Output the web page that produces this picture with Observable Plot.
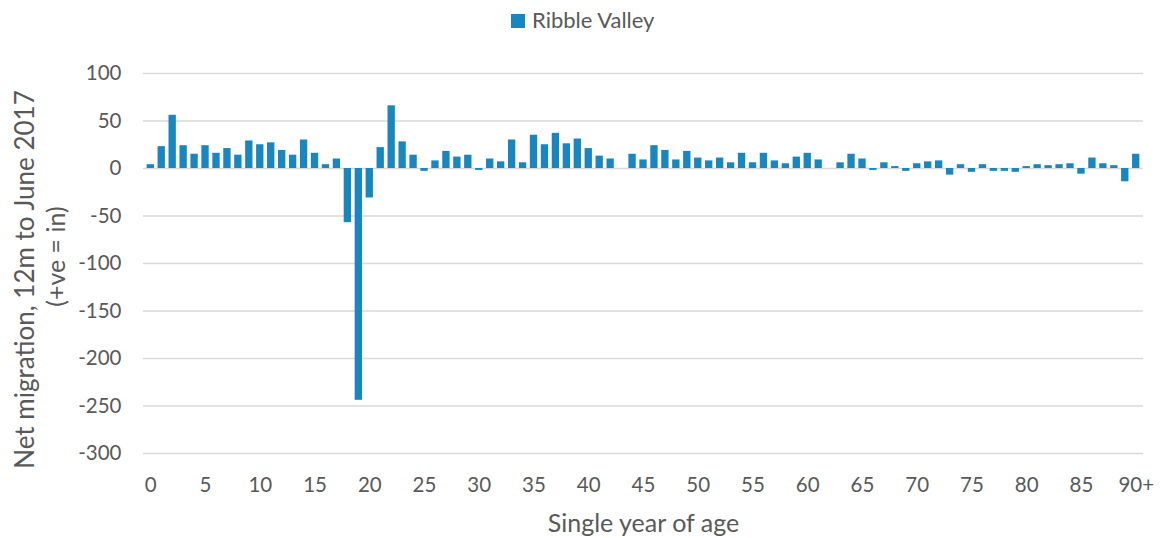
<!DOCTYPE html>
<html>
<head>
<meta charset="utf-8">
<script src="https://cdn.jsdelivr.net/npm/d3@7"></script>
<script src="https://cdn.jsdelivr.net/npm/@observablehq/plot@0.6"></script>
<style>
  body { margin: 0; background: #fff; font-family: Lato, "Open Sans", sans-serif; }
  #legend { height: 40px; position: relative; color: #595959; font-size: 22px; }
  #legend .sw { position: absolute; left: 511px; top: 14px; width: 14px; height: 14px; background: #1a86c0; }
  #legend .lt { position: absolute; left: 532px; top: 7px; line-height: 26px; white-space: nowrap; }
</style>
</head>
<body>
<div id="legend"><span class="sw"></span><span class="lt" id="legendText"></span></div>
<div id="chart"></div>
<script>
const seriesName = "Ribble Valley";
const ages = ["0","1","2","3","4","5","6","7","8","9","10","11","12","13","14","15","16","17","18","19","20","21","22","23","24","25","26","27","28","29","30","31","32","33","34","35","36","37","38","39","40","41","42","43","44","45","46","47","48","49","50","51","52","53","54","55","56","57","58","59","60","61","62","63","64","65","66","67","68","69","70","71","72","73","74","75","76","77","78","79","80","81","82","83","84","85","86","87","88","89","90+"];
const values = [4,23,56,24,15,24,16,21,14,29,25,27,19,14,30,16,4,10,-57,-244,-31,22,66,28,14,-3,8,18,12,14,-2,10,7,30,6,35,25,37,26,31,21,13,10,0,15,9,24,19,9,18,11,8,11,6,16,6,16,8,5,12,16,9,0,6,15,10,-2,6,2,-3,5,7,8,-7,4,-4,4,-3,-3,-4,2,4,3,4,5,-6,11,5,3,-14,15];
const xTickLabels = ["0","5","10","15","20","25","30","35","40","45","50","55","60","65","70","75","80","85","90+"];
const yTicks = [-300,-250,-200,-150,-100,-50,0,50,100];
const xTitle = "Single year of age";
const yTitleLines = ["Net migration, 12m to June 2017", "(+ve = in)"];

document.getElementById("legendText").textContent = seriesName;

const data = ages.map((a, i) => ({age: a, value: values[i]}));
const grey = "#595959";

const chart = Plot.plot({
  width: 1162,
  height: 498,
  marginLeft: 143,
  marginRight: 19,
  marginTop: 33,
  marginBottom: 85,
  style: {fontFamily: "Lato, 'Open Sans', sans-serif", fontSize: "20px", color: grey, background: "#fff", overflow: "visible"},
  x: {type: "band", domain: ages, padding: 0.33, label: null},
  y: {domain: [-300, 100], label: null},
  marks: [
    Plot.gridY(yTicks, {stroke: "#d9d9d9", strokeOpacity: 1, strokeWidth: 1.5}),
    Plot.barY(data, {x: "age", y: "value", fill: "#1a86c0"}),
    Plot.axisY(yTicks, {tickSize: 0, tickPadding: 22, fontSize: 20.5, fill: grey, label: null, tickFormat: d => String(d)}),
    Plot.axisX(xTickLabels, {tickSize: 0, tickPadding: 24, fontSize: 20.5, fill: grey, label: null}),
    Plot.text([xTitle], {frameAnchor: "bottom", lineAnchor: "middle", dy: 70, fontSize: 25, fill: grey}),
    Plot.text([yTitleLines[0]], {frameAnchor: "left", textAnchor: "middle", lineAnchor: "middle", rotate: -90, dx: -118, dy: 16, fontSize: 26, fill: grey}),
    Plot.text([yTitleLines[1]], {frameAnchor: "left", textAnchor: "middle", lineAnchor: "middle", rotate: -90, dx: -87, dy: -7, fontSize: 25, fill: grey})
  ]
});
document.getElementById("chart").appendChild(chart);
</script>
</body>
</html>
